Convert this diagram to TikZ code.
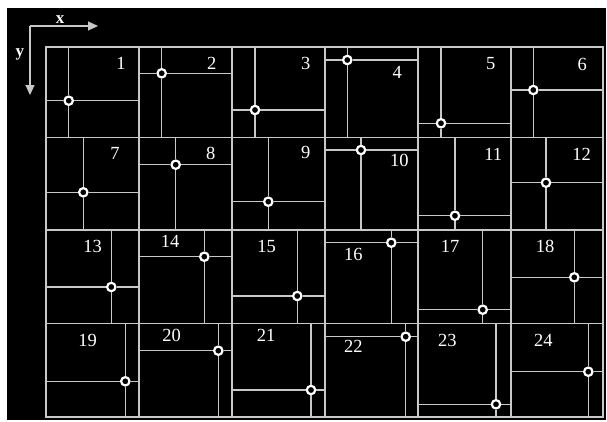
\documentclass[tikz,border=0pt]{standalone}
\usepackage{fontspec}
\setmainfont{Liberation Serif}
\usetikzlibrary{arrows.meta}
\definecolor{linegray}{RGB}{200,200,200}
\tikzset{
  gridline/.style={draw=linegray, line width=1.2pt},
  cutline/.style={draw=linegray, line width=1.1pt},
  probe/.style={
    circle, draw=white, fill=black, line width=2.2pt,
    inner sep=0pt, minimum size=8.4pt
  },
  cellnum/.style={text=white, inner sep=0pt, font=\fontsize{18.5}{18.5}\selectfont},
  axlabel/.style={text=white, inner sep=0pt, font=\fontsize{17}{17}\selectfont\bfseries},
  axis/.style={-{Triangle[width=9pt,length=10pt]}, draw=linegray, fill=white, line width=1.2pt}
}

\begin{document}
\begin{tikzpicture}[x=1pt, y=-1pt]
  \fill[white] (0,0) rectangle (607,421);
  \fill[black] (7,8) rectangle (606,420);

  % column and row edges
  \foreach \x [count=\i from 0] in {46,139,232,325,418,511,603}
    \coordinate (cx\i) at (\x,0);
  \foreach \y [count=\j from 0] in {47,137.5,230,323.5,417}
    \coordinate (ry\j) at (0,\y);

  % axes
  \coordinate (o) at (30,26);
  \coordinate (xend) at (98,26);
  \coordinate (yend) at (30,95);
  \draw[axis] (o) -- (xend);
  \draw[axis] (o) -- (yend);
  \node[axlabel] (xlab) at (60,20) {x};
  \node[axlabel] (ylab) at (20,54) {y};

  % grid
  \draw[gridline] (cx0 |- ry0) rectangle (cx6 |- ry4);
  \foreach \i in {1,...,5}
    \draw[gridline] (cx\i |- ry0) -- (cx\i |- ry4);
  \foreach \j in {1,2,3}
    \draw[gridline] (cx0 |- ry\j) -- (cx6 |- ry\j);

  % cells: number / column / row / point / label
  \foreach \n/\c/\r/\px/\py/\lx/\ly in {
      1/0/0/68.7/100.7/121/63,     2/1/0/161.7/73.3/211.7/63,
      3/2/0/255/110/305.7/63,      4/3/0/347.3/60/397.3/72,
      5/4/0/441/123.3/490.7/64,    6/5/0/533.3/90/582.3/64,
      7/0/1/83.3/192.3/115/153,    8/1/1/175.7/164.7/210.7/153,
      9/2/1/268.3/201.7/305.7/152, 10/3/1/361/150/399.3/160,
      11/4/1/455/215.7/493.3/154,  12/5/1/546/182.7/581.7/154,
      13/0/2/111.3/287/92.7/246,   14/1/2/204.3/256.7/170/241,
      15/2/2/297.3/296/266.7/246,  16/3/2/391.3/242.7/353.3/254.3,
      17/4/2/482.7/309.7/450/246,  18/5/2/574.3/277.3/545/246,
      19/0/3/125.3/381.3/87.7/340, 20/1/3/218.3/350.7/171.7/335.7,
      21/2/3/311/390/266/335,      22/3/3/405.7/336.7/353.3/346.7,
      23/4/3/496/404.3/447.3/340.7, 24/5/3/588.3/371.7/543.3/340.7}{
    \pgfmathtruncatemacro\cc{\c+1}
    \pgfmathtruncatemacro\rr{\r+1}
    \node[probe] (p\n) at (\px,\py) {};
    \draw[cutline] (cx\c |- p\n) -- (p\n) -- (cx\cc |- p\n);
    \draw[cutline] (p\n |- ry\r) -- (p\n) -- (p\n |- ry\rr);
    \node[cellnum] (n\n) at (\lx,\ly) {\n};
  }
\end{tikzpicture}
\end{document}
